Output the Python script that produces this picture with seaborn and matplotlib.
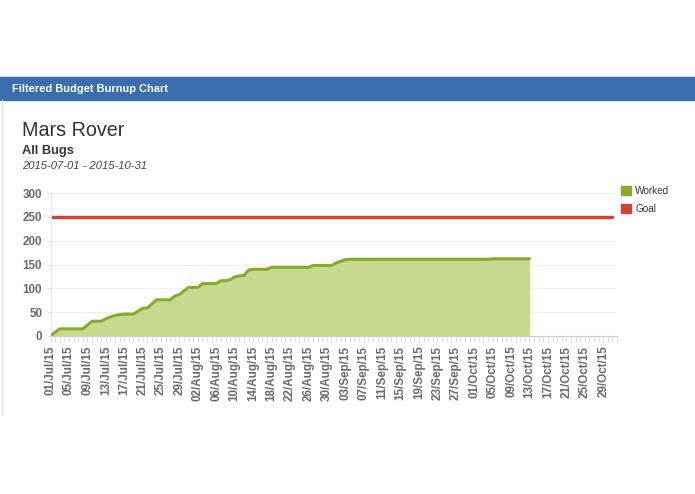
import matplotlib
matplotlib.use("Agg")
import matplotlib.pyplot as plt
import matplotlib.dates as mdates
import matplotlib.patches as mpatches
import seaborn as sns
import pandas as pd

# chart data
project = "Mars Rover"
subtitle = "All Bugs"
period = "2015-07-01 - 2015-10-31"

start_date = "2015-07-01"
end_date = "2015-10-31"
worked = [
    0, 8, 15, 15, 15, 15, 15, 15, 23, 31,          # Jul 1-10
    31, 31, 36, 40, 43, 45, 46, 46, 46, 52,        # Jul 11-20
    58, 59, 67, 76, 76, 76, 76, 84, 87, 95,        # Jul 21-30
    102, 102, 102, 110, 110, 110, 110, 116, 116, 118,  # Jul 31-Aug 9
    124, 126, 127, 138, 140, 140, 140, 140, 144, 144,  # Aug 10-19
    144, 144, 144, 144, 144, 144, 144, 148, 148, 148,  # Aug 20-29
    148, 148, 153, 157, 160, 161, 161, 161, 161, 161,  # Aug 30-Sep 8
    161, 161, 161, 161, 161, 161, 161, 161, 161, 161,  # Sep 9-18
    161, 161, 161, 161, 161, 161, 161, 161, 161, 161,  # Sep 19-28
    161, 161, 161, 161, 161, 161, 162, 162, 162, 162,  # Sep 29-Oct 8
    162, 162, 162, 162, 162,                           # Oct 9-13
]
goal_dates = [start_date, end_date]
goal_values = [250, 250]
y_ticks = [0, 50, 100, 150, 200, 250, 300]

GREEN = "#86ab2c"
GREEN_FILL = "#c6d98e"
RED = "#d0453a"
BLUE = "#3a6eae"
GREY = "#6a6a6a"

df_worked = pd.DataFrame({
    "date": pd.date_range(start_date, periods=len(worked), freq="D"),
    "value": worked,
})
df_goal = pd.DataFrame({"date": pd.to_datetime(goal_dates), "value": goal_values})

sns.set_style("white")
plt.rcParams["font.family"] = ["Liberation Sans", "DejaVu Sans"]

fig = plt.figure(figsize=(6.95, 4.94), dpi=100)

# header bar
fig.patches.append(mpatches.Rectangle((0, 1 - 100 / 494), 1, 23 / 494,
                                      transform=fig.transFigure, color=BLUE, zorder=0))
fig.text(12 / 695, 1 - 88.5 / 494, "Filtered Budget Burnup Chart", color="white",
         fontsize=7.9, fontweight="bold", va="center")
fig.add_artist(plt.Line2D([1.5 / 695, 1.5 / 695], [1 - 100 / 494, 1 - 415 / 494],
                          transform=fig.transFigure, color="#e4e4e4", lw=1))

fig.text(22 / 695, 1 - 131 / 494, project, fontsize=14.2, color="#333333", va="center")
fig.text(22 / 695, 1 - 151 / 494, subtitle, fontsize=9.3, fontweight="bold",
         color="#333333", va="center")
fig.text(22 / 695, 1 - 166 / 494, period, fontsize=8.1, style="italic",
         color="#444444", va="center")

ax = fig.add_axes([50.5 / 695, 1 - 336 / 494, (617 - 50.5) / 695, (336 - 193) / 494])

ax.fill_between(df_worked["date"], 0, df_worked["value"], color=GREEN_FILL, lw=0, zorder=1)
sns.lineplot(data=df_worked, x="date", y="value", color=GREEN, lw=2.2, ax=ax, zorder=3)
sns.lineplot(data=df_goal, x="date", y="value", color=RED, lw=2.5, ax=ax, zorder=2)

x0 = mdates.date2num(pd.Timestamp(start_date))
ax.set_xlim(x0, x0 + 123.0)
ax.set_ylim(0, 300)
ax.set_yticks(y_ticks)
ax.set_xlabel("")
ax.set_ylabel("")

major = pd.date_range(start_date, end_date, freq="4D")
ax.set_xticks(major)
ax.xaxis.set_major_formatter(mdates.DateFormatter("%d/%b/%y"))
ax.xaxis.set_minor_locator(mdates.DayLocator())
plt.setp(ax.get_xticklabels(), rotation=90)

ax.tick_params(axis="x", which="both", length=4, width=0.8, color="#dddddd",
               labelsize=8.4, labelcolor=GREY, pad=3, bottom=True)
ax.tick_params(axis="y", length=3, width=0.8, color="#dddddd", labelsize=8.4,
               labelcolor=GREY, pad=3, left=True)
for lbl in ax.get_xticklabels() + ax.get_yticklabels():
    lbl.set_fontweight("bold")

ax.grid(axis="y", color="#f0f0f0", lw=0.8)
ax.set_axisbelow(True)
for side in ["top", "right"]:
    ax.spines[side].set_visible(False)
ax.spines["left"].set_color("#e6e6e6")
ax.spines["bottom"].set_color("#cccccc")

handles = [mpatches.Patch(color=GREEN, label="Worked"),
           mpatches.Patch(color=RED, label="Goal")]
fig.legend(handles=handles, loc="upper left", bbox_to_anchor=(612 / 695, 1 - 177 / 494),
           frameon=False, fontsize=7.2, handlelength=1.0, handleheight=1.0,
           handletextpad=0.4, labelspacing=0.75, labelcolor="#333333")

fig.savefig("out.png", dpi=100)
